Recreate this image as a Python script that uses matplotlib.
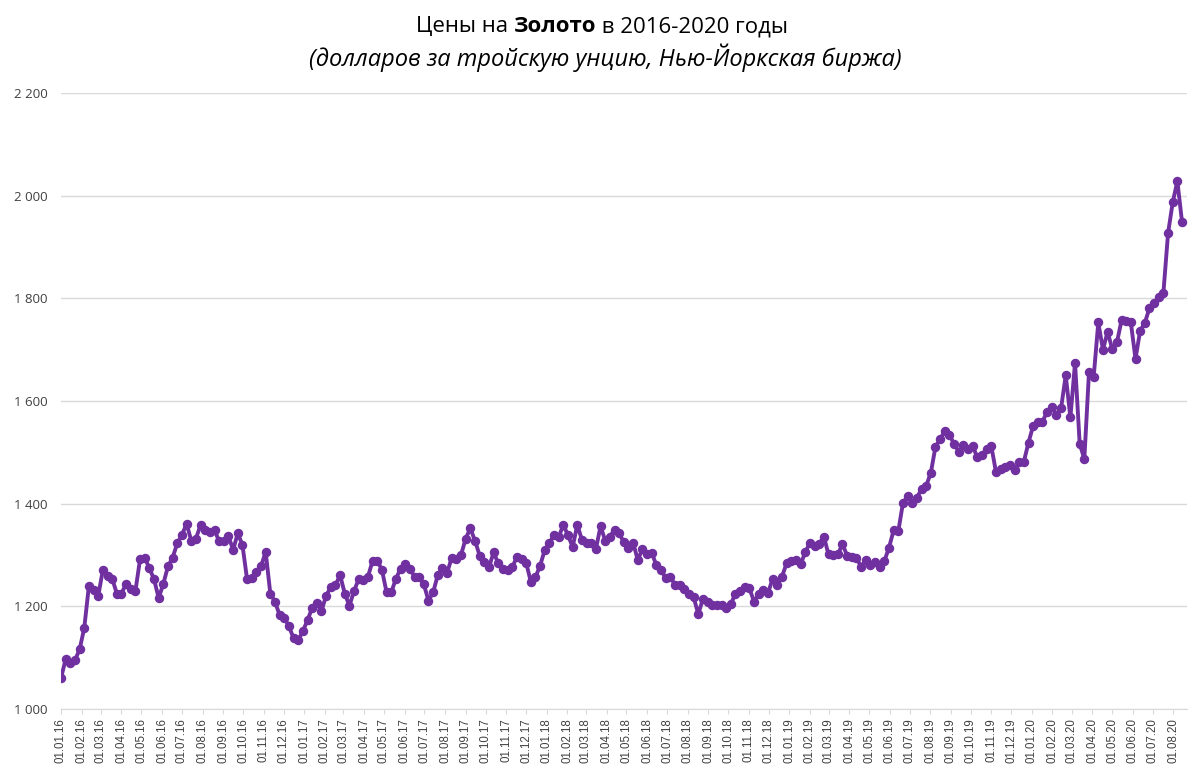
import numpy as np
import pandas as pd
import matplotlib
matplotlib.use("Agg")
from matplotlib import pyplot as plt
import matplotlib.dates as mdates

# Weekly gold prices, USD per troy ounce
prices = [
    1060, 1097, 1090, 1095, 1116, 1158, 1240, 1231, 1220, 1271,
    1260, 1254, 1225, 1225, 1244, 1234, 1230, 1292, 1295, 1274,
    1253, 1216, 1244, 1278, 1295, 1323, 1339, 1361, 1328, 1332,
    1358, 1349, 1344, 1348, 1327, 1327, 1337, 1310, 1342, 1320,
    1253, 1255, 1267, 1278, 1306, 1225, 1209, 1183, 1178, 1161,
    1138, 1134, 1152, 1173, 1197, 1206, 1191, 1221, 1237, 1241,
    1261, 1225, 1201, 1230, 1253, 1252, 1258, 1289, 1289, 1271,
    1227, 1227, 1254, 1273, 1282, 1273, 1258, 1257, 1243, 1211,
    1227, 1261, 1275, 1265, 1295, 1293, 1300, 1332, 1352, 1328,
    1299, 1286, 1276, 1305, 1284, 1273, 1270, 1276, 1296, 1293,
    1285, 1248, 1257, 1279, 1310, 1324, 1338, 1335, 1359, 1338,
    1316, 1359, 1329, 1324, 1324, 1312, 1356, 1328, 1336, 1349,
    1342, 1325, 1314, 1324, 1290, 1312, 1301, 1304, 1280, 1271,
    1255, 1257, 1242, 1241, 1233, 1224, 1218, 1185, 1214, 1208,
    1202, 1202, 1203, 1196, 1205, 1224, 1229, 1238, 1235, 1209,
    1224, 1231, 1226, 1254, 1242, 1258, 1284, 1288, 1291, 1282,
    1305, 1324, 1318, 1322, 1336, 1301, 1300, 1301, 1321, 1299,
    1296, 1295, 1277, 1290, 1280, 1286, 1276, 1288, 1314, 1348,
    1346, 1401, 1415, 1401, 1412, 1428, 1435, 1460, 1511, 1526,
    1541, 1533, 1517, 1501, 1515, 1506, 1512, 1490, 1495, 1507,
    1512, 1462, 1467, 1471, 1475, 1465, 1481, 1482, 1519, 1552,
    1560, 1560, 1579, 1589, 1573, 1586, 1650, 1568, 1674, 1517,
    1487, 1656, 1646, 1753, 1700, 1735, 1701, 1714, 1757, 1755,
    1753, 1682, 1737, 1752, 1781, 1791, 1802, 1811, 1927, 1987,
    2028, 1949,
]
dates = pd.date_range("2016-01-01", periods=len(prices), freq="7D")

y_ticks = [1000, 1200, 1400, 1600, 1800, 2000, 2200]
y_labels = ["1 000", "1 200", "1 400", "1 600", "1 800", "2 000", "2 200"]
month_ticks = pd.date_range("2016-01-01", "2020-08-01", freq="MS")

title_parts = [("Цены на ", "normal"), ("Золото", "bold"), (" в 2016-2020 годы", "normal")]
subtitle = "(долларов за тройскую унцию, Нью-Йоркская биржа)"

purple = "#7030A0"
grey_txt = "#404040"
title_font = ["Open Sans", "DejaVu Sans"]

fig = plt.figure(figsize=(12.02, 7.79), dpi=100)
ax = fig.add_axes([61 / 1202, 1 - 709 / 779, (1187 - 61) / 1202, (709 - 93) / 779])

ax.plot(dates, prices, color=purple, lw=2.8, marker="o", ms=5.8,
        markerfacecolor=purple, markeredgecolor=purple, solid_joinstyle="round")

ax.set_ylim(1000, 2200)
ax.set_xlim(pd.Timestamp("2016-01-01"), pd.Timestamp("2016-01-01") + pd.Timedelta(days=1694.5))

ax.set_yticks(y_ticks)
ax.set_yticklabels(y_labels, fontsize=9.5, color=grey_txt, family=title_font)
ax.set_xticks(month_ticks)
ax.xaxis.set_major_formatter(mdates.DateFormatter("%d.%m.%y"))
for lbl in ax.get_xticklabels():
    lbl.set_rotation(90)
    lbl.set_fontsize(8.3)
    lbl.set_family("Liberation Sans")
    lbl.set_color(grey_txt)

ax.grid(axis="y", color="#D9D9D9", lw=1)
ax.set_axisbelow(True)
for s in ["top", "right", "left"]:
    ax.spines[s].set_visible(False)
ax.spines["bottom"].set_color("#D9D9D9")
ax.tick_params(axis="y", length=0, pad=9.5)
ax.tick_params(axis="x", length=3.5, color="#D9D9D9", pad=3)

# Title line with one bold word, centred as a whole
fig.canvas.draw()
renderer = fig.canvas.get_renderer()
texts = []
for part, weight in title_parts:
    t = fig.text(0, 1 - 27 / 779, part, fontsize=16, weight=weight,
                 family=title_font, va="center", ha="left", color="black")
    texts.append(t)
widths = [t.get_window_extent(renderer).width for t in texts]
x0 = (602 - sum(widths) / 2) / 1202
for t, w in zip(texts, widths):
    t.set_x(x0)
    x0 += w / 1202
fig.text(605 / 1202, 1 - 58 / 779, subtitle, fontsize=17, style="italic",
         family=title_font, va="center", ha="center", color="black")

fig.savefig("out.png", dpi=100)
